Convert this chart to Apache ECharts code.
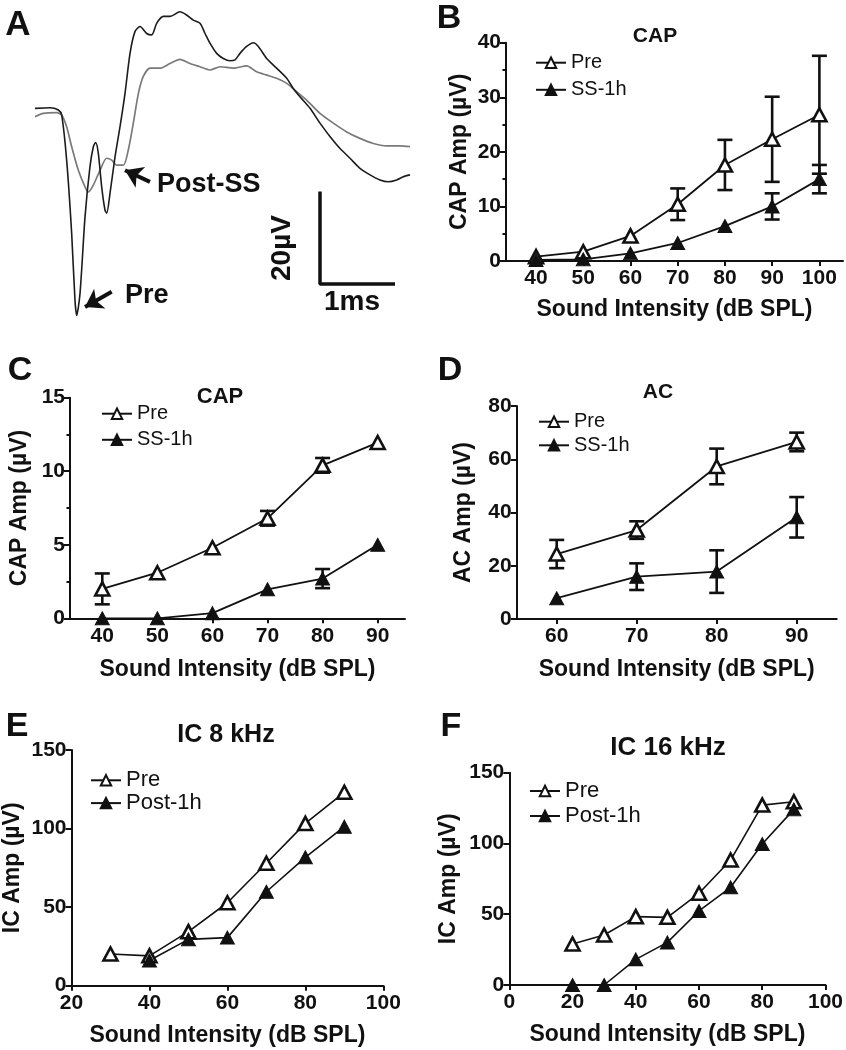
<!DOCTYPE html>
<html><head><meta charset="utf-8">
<script src="https://cdn.jsdelivr.net/npm/echarts@6/dist/echarts.min.js"></script>
<style>html,body{margin:0;padding:0;background:#fff}#c{width:846px;height:1050px}</style>
</head><body><div id="c"></div>
<script>
// ---------- Panel A: waveforms (time in ms, amplitude in µV) ----------
const A_pre_t = [0,0.2,0.311,0.356,0.422,0.489,0.533,0.556,0.6,0.667,0.733,0.778,0.809,0.844,0.889,0.933,0.956,1.0,1.067,1.133,1.2,1.267,1.333,1.4,1.489,1.556,1.622,1.711,1.8,1.933,2.022,2.111,2.2,2.267,2.333,2.422,2.511,2.6,2.667,2.733,2.822,2.911,2.978,3.089,3.222,3.356,3.444,3.533,3.667,3.8,3.933,4.067,4.2,4.333,4.467,4.6,4.711,4.822,4.911,5.0];
const A_pre_v = [0,0.14,-0.36,-1.44,-11.2,-27.1,-41.5,-44.8,-40.1,-23.5,-12.6,-8.3,-7.4,-9.7,-17.0,-22.0,-22.7,-18.4,-10.5,-4.0,3.2,11.9,16.6,17.7,16.2,15.9,18.4,19.9,19.9,20.9,20.2,19.1,18.4,16.2,14.1,11.9,10.8,10.3,10.5,11.9,13.4,14.2,13.4,10.8,8.7,6.5,4.3,2.5,0,-3.2,-6.1,-8.7,-10.8,-13.0,-14.4,-15.5,-15.9,-15.5,-14.8,-14.4];
const A_post_t = [0,0.111,0.289,0.356,0.422,0.489,0.578,0.667,0.711,0.778,0.867,0.956,1.022,1.089,1.178,1.244,1.311,1.378,1.444,1.533,1.667,1.8,1.933,2.067,2.2,2.333,2.467,2.644,2.822,2.956,3.089,3.222,3.356,3.489,3.622,3.8,3.978,4.156,4.333,4.511,4.689,4.867,5.0];
const A_post_v = [-1.8,-1.08,-0.94,-1.44,-4.0,-8.3,-13.4,-17.0,-18.1,-16.6,-13.4,-10.8,-11.2,-12.3,-12.3,-9.0,-3.2,3.2,6.9,8.7,8.7,9.7,10.6,9.7,9.0,8.3,9.0,8.7,9.2,7.9,7.2,6.5,5.4,3.6,1.8,-1.08,-3.2,-5.1,-6.5,-7.6,-8.1,-8.1,-8.3];
const A_scale_t = [3.8,3.8,4.8];
const A_scale_v = [-18,-38,-38];

// ---------- Panel B: CAP ----------
const B_x = [40,50,60,70,80,90,100];
const B_pre = [0.8,1.7,4.6,10.4,17.6,22.3,26.8];
const B_pre_err = [0,0,0,2.9,4.6,7.8,10.8];
const B_ss = [0.2,0.3,1.4,3.3,6.4,10.0,15.0];
const B_ss_err = [0,0,0,0,0,2.4,2.6];

// ---------- Panel C: CAP ----------
const C_x = [40,50,60,70,80,90];
const C_pre = [2.0,3.1,4.8,6.8,10.4,11.95];
const C_pre_err = [1.05,0,0,0.5,0.5,0];
const C_ss = [0,0,0.35,1.97,2.7,5.0];
const C_ss_err = [0,0,0,0,0.65,0];

// ---------- Panel D: AC ----------
const D_x = [60,70,80,90];
const D_pre = [24.4,33.4,57.3,66.5];
const D_pre_err = [5.3,3.3,6.7,3.5];
const D_ss = [7.8,15.9,17.8,38.2];
const D_ss_err = [0,5,8,7.6];

// ---------- Panel E: IC 8 kHz ----------
const E_pre_x = [30,40,50,60,70,80,90];
const E_pre = [20.2,19,34.4,52.8,77.9,103.3,123.1];
const E_post_x = [40,50,60,70,80,90];
const E_post = [16,29.5,30.6,59.8,81.7,101.2];

// ---------- Panel F: IC 16 kHz ----------
const F_x = [20,30,40,50,60,70,80,90];
const F_pre = [29,35.3,48.3,47.8,64.8,88.3,127.1,129.5];
const F_post = [0,0,18.1,30.1,52.3,69,99.6,124.1];

const zip = (a,b)=>a.map((v,i)=>[v,b[i]]);
const zip3 = (a,b,c)=>a.map((v,i)=>[v,b[i],c[i]]);
const FONT = '"Liberation Sans", Arial, sans-serif';
const BLK = '#111';

function grid(l,t,w,h){return {left:l,top:t,width:w,height:h,containLabel:false};}
function xAx(gi,min,max,ticks,name,gap){
  const o = {gridIndex:gi,type:'value',min:min,max:max,
    axisLine:{show:true,onZero:false,lineStyle:{color:BLK,width:2}},
    axisTick:{show:true,length:5,lineStyle:{color:BLK,width:2}},
    axisLabel:{color:BLK,fontFamily:FONT,fontWeight:'bold',fontSize:21,margin:7},
    splitLine:{show:false},
    name:name,nameLocation:'middle',nameGap:gap,
    nameTextStyle:{color:BLK,fontFamily:FONT,fontWeight:'bold',fontSize:23}};
  if (ticks.custom){o.axisTick.customValues=ticks.custom;o.axisLabel.customValues=ticks.custom;}
  else {o.interval=ticks.interval;}
  return o;
}
function yAx(gi,max,interval,minor,name,gap){
  return {gridIndex:gi,type:'value',min:0,max:max,interval:interval,
    axisLine:{show:true,onZero:false,lineStyle:{color:BLK,width:2}},
    axisTick:{show:true,length:6,lineStyle:{color:BLK,width:2}},
    minorTick:{show:minor,splitNumber:2,length:3.5,lineStyle:{color:BLK,width:2}},
    axisLabel:{color:BLK,fontFamily:FONT,fontWeight:'bold',fontSize:21,margin:5},
    splitLine:{show:false},
    name:name,nameLocation:'middle',nameGap:gap,nameRotate:90,
    nameTextStyle:{color:BLK,fontFamily:FONT,fontWeight:'bold',fontSize:23}};
}
function lineS(name,gi,data,open,lw){
  return {type:'line',name:name,xAxisIndex:gi,yAxisIndex:gi,data:data,
    symbol:'triangle',symbolSize:[14,13],z:5,
    lineStyle:{color:BLK,width:lw||1.8},
    itemStyle:open?{color:'#fff',borderColor:BLK,borderWidth:2.6}:{color:BLK,borderColor:BLK,borderWidth:1},
    emphasis:{disabled:true},clip:false};
}
function errS(gi,data){
  return {type:'custom',xAxisIndex:gi,yAxisIndex:gi,data:data,z:3,silent:true,
    renderItem:function(p,api){
      const x=api.value(0),y=api.value(1),e=api.value(2);
      if(!e) return null;
      const t=api.coord([x,y+e]), b=api.coord([x,y-e]); const hw=7.5;
      const st={stroke:BLK,lineWidth:2.6};
      return {type:'group',children:[
        {type:'line',shape:{x1:t[0],y1:t[1],x2:b[0],y2:b[1]},style:st},
        {type:'line',shape:{x1:t[0]-hw,y1:t[1],x2:t[0]+hw,y2:t[1]},style:st},
        {type:'line',shape:{x1:b[0]-hw,y1:b[1],x2:b[0]+hw,y2:b[1]},style:st}]};
    }};
}
function legend(names,left,top,fs,gap){
  return {data:names.map(n=>({name:n})),left:left,top:top,orient:'vertical',
    itemWidth:30,itemHeight:13,itemGap:gap,padding:0,
    textStyle:{color:BLK,fontFamily:FONT,fontSize:fs},selectedMode:false};
}
function txt(s,x,y,size,extra){
  return Object.assign({type:'text',x:x,y:y,silent:true,style:{text:s,fill:BLK,
    font:'bold '+size+'px '+FONT,textAlign:'center',textVerticalAlign:'middle'}},extra||{});
}

const option = {
  animation:false, backgroundColor:'#fff',
  grid:[grid(35,6.7,375,314.2), grid(506,42.7,337,218.3), grid(70,397.7,335,220.6),
        grid(516.7,406,320,213), grid(70.7,750,312.6,235.7), grid(509.3,772.7,318,212.3)],
  xAxis:[
    {gridIndex:0,type:'value',min:0,max:5,show:false},
    xAx(1,33.64,105,{custom:B_x},'Sound Intensity (dB SPL)',37.5),
    xAx(2,34.14,94.96,{custom:C_x},'Sound Intensity (dB SPL)',40),
    xAx(3,55,95,{custom:D_x},'Sound Intensity (dB SPL)',39.5),
    xAx(4,20,100,{interval:20},'Sound Intensity (dB SPL)',38),
    xAx(5,0,100,{interval:20},'Sound Intensity (dB SPL)',38.5)
  ],
  yAxis:[
    {gridIndex:0,type:'value',min:-46,max:22,show:false},
    yAx(1,40,10,true,'CAP Amp (\u00b5V)',35),
    yAx(2,15,5,true,'CAP Amp (\u00b5V)',39),
    yAx(3,80,20,false,'AC Amp (\u00b5V)',42),
    yAx(4,150,50,false,'IC Amp (\u00b5V)',47.5),
    yAx(5,150,50,false,'IC Amp (\u00b5V)',49.5)
  ],
  legend:[
    legend(['Pre','SS-1h'],535,52.7,20,7.1),
    legend(['Pre ','SS-1h '],101,403.7,20,6.1),
    legend(['Pre  ','SS-1h  '],538,411.7,20,3.6),
    legend(['Pre   ','Post-1h'],90,769.3,22,0.8),
    legend(['Pre    ','Post-1h '],529,780,22,3)
  ],
  series:[
    {type:'line',name:'A-pre',xAxisIndex:0,yAxisIndex:0,data:zip(A_pre_t,A_pre_v),showSymbol:false,smooth:0.25,
      lineStyle:{color:'#1c1c1c',width:1.6},z:4,
      markLine:{silent:true,symbol:['none','arrow'],symbolSize:[17,17],lineStyle:{color:BLK,width:4,type:'solid'},label:{show:false},
        data:[[{coord:[1.022,-39.7]},{coord:[0.667,-43.0]}],[{coord:[1.533,-15.9]},{coord:[1.2,-13.4]}]]}},
    {type:'line',name:'A-post',xAxisIndex:0,yAxisIndex:0,data:zip(A_post_t,A_post_v),showSymbol:false,smooth:0.25,
      lineStyle:{color:'#7a7a7a',width:1.7},z:3},
    {type:'line',name:'A-scale',xAxisIndex:0,yAxisIndex:0,data:zip(A_scale_t,A_scale_v),showSymbol:false,
      lineStyle:{color:BLK,width:3.5},z:3},

    errS(1,zip3(B_x,B_pre,B_pre_err)), errS(1,zip3(B_x,B_ss,B_ss_err)),
    lineS('Pre',1,zip(B_x,B_pre),true), lineS('SS-1h',1,zip(B_x,B_ss),false),

    errS(2,zip3(C_x,C_pre,C_pre_err)), errS(2,zip3(C_x,C_ss,C_ss_err)),
    lineS('Pre ',2,zip(C_x,C_pre),true), lineS('SS-1h ',2,zip(C_x,C_ss),false),

    errS(3,zip3(D_x,D_pre,D_pre_err)), errS(3,zip3(D_x,D_ss,D_ss_err)),
    lineS('Pre  ',3,zip(D_x,D_pre),true), lineS('SS-1h  ',3,zip(D_x,D_ss),false),

    lineS('Pre   ',4,zip(E_pre_x,E_pre),true,1.6), lineS('Post-1h',4,zip(E_post_x,E_post),false,1.6),
    lineS('Pre    ',5,zip(F_x,F_pre),true,1.6), lineS('Post-1h ',5,zip(F_x,F_post),false,1.6)
  ],
  graphic:[
    txt('A',18,25,35), txt('B',449,19,34), txt('C',20,371,34), txt('D',450,371,34),
    txt('E',17,727,34), txt('F',451,727,34),
    txt('CAP',655,36,21), txt('CAP',220,397,22), txt('AC',658,392,21),
    txt('IC 8 kHz',226,735,25), txt('IC 16 kHz',668,748,26),
    txt('Post-SS',157,185,27,{style:{text:'Post-SS',fill:BLK,font:'bold 27px '+FONT,textAlign:'left',textVerticalAlign:'middle'}}),
    txt('Pre',125,296,27,{style:{text:'Pre',fill:BLK,font:'bold 27px '+FONT,textAlign:'left',textVerticalAlign:'middle'}}),
    txt('1ms',352,302,28),
    txt('20\u00b5V',282,248,28,{rotation:Math.PI/2})
  ]
};
const chart = echarts.init(document.getElementById('c'),null,{renderer:'canvas'});
chart.setOption(option);
</script></body></html>
